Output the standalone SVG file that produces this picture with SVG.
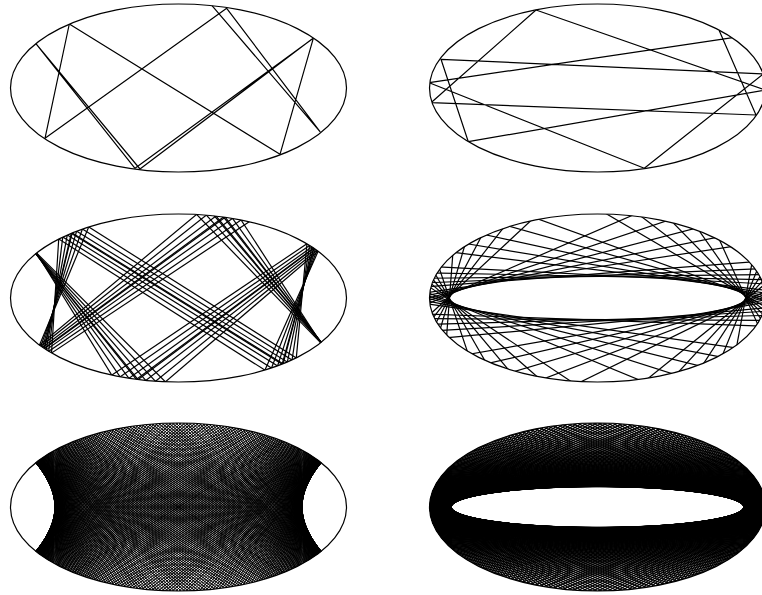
<svg xmlns="http://www.w3.org/2000/svg" width="762" height="595" viewBox="0 0 762 595">
<defs>
<style>
.o{fill:none;stroke:#000;stroke-width:1.2}
.c{fill:none;stroke:#000;stroke-width:1.2;stroke-linejoin:round}
.n{fill:none;stroke:#000;vector-effect:non-scaling-stroke}
</style>
<clipPath id="cTL"><ellipse cx="178.5" cy="88" rx="168" ry="84"/></clipPath>
<clipPath id="cTR"><ellipse cx="597.5" cy="88" rx="168" ry="84"/></clipPath>
<clipPath id="cML"><ellipse cx="178.5" cy="298" rx="168" ry="84"/></clipPath>
<clipPath id="cMR"><ellipse cx="597.5" cy="298" rx="168" ry="84"/></clipPath>
<clipPath id="cBL"><ellipse cx="178.5" cy="507" rx="168" ry="84"/></clipPath>
<clipPath id="cBR"><ellipse cx="597.5" cy="507" rx="168" ry="84"/></clipPath>
<line id="h" class="n" x1="1" y1="-9" x2="1" y2="9"/>
</defs>
<rect width="762" height="595" fill="#fff"/>

<g id="p-tl">
<g clip-path="url(#cTL)">
<polyline class="c" points="212,5.7 320,131.7 226.7,8.3 45,138.3 69.3,24 280,154.3 313.3,38.3 135,168.3 35.7,43.3 140,169 311.7,39.3"/>
</g>
<ellipse class="o" cx="178.5" cy="88" rx="168" ry="84"/>
</g>

<g id="p-tr">
<g clip-path="url(#cTR)">
<polyline class="c" points="732.7,37.7 429.3,82.7 644.3,168.3 763.2,74 441,59.3 468.3,141.7 765.5,90 536,10 431,102.7 756,115 719.3,30.7"/>
</g>
<ellipse class="o" cx="597.5" cy="88" rx="168" ry="84"/>
</g>

<g id="p-ml">
<g clip-path="url(#cML)" stroke-width="1.2">
<g transform="translate(178.5,298) scale(123.6,76.7)">
<use href="#h" transform="matrix(1.0923 .43944 .43944 1.0923 0 0)"/>
<use href="#h" transform="matrix(1.1154 .49407 .49407 1.1154 0 0)"/>
<use href="#h" transform="matrix(1.13724 .54159 .54159 1.13724 0 0)"/>
<use href="#h" transform="matrix(1.14256 .55265 .55265 1.14256 0 0)"/>
<use href="#h" transform="matrix(1.16817 .60383 .60383 1.16817 0 0)"/>
<use href="#h" transform="matrix(1.17432 .61565 .61565 1.17432 0 0)"/>
<use href="#h" transform="matrix(1.20571 .6736 .6736 1.20571 0 0)"/>
<use href="#h" transform="matrix(1.24982 .7497 .7497 1.24982 0 0)"/>
<use href="#h" transform="matrix(-1.50076 1.11905 -1.11905 1.50076 0 0)"/>
<use href="#h" transform="matrix(-1.60908 1.26061 -1.26061 1.60908 0 0)"/>
<use href="#h" transform="matrix(-1.74554 1.4307 -1.4307 1.74554 0 0)"/>
<use href="#h" transform="matrix(-1.88427 1.59702 -1.59702 1.88427 0 0)"/>
<use href="#h" transform="matrix(-1.91953 1.63847 -1.63847 1.91953 0 0)"/>
<use href="#h" transform="matrix(-2.10119 1.84797 -1.84797 2.10119 0 0)"/>
<use href="#h" transform="matrix(-2.39286 2.17389 -2.17389 2.39286 0 0)"/>
<use href="#h" transform="matrix(-2.80436 2.62 -2.62 2.80436 0 0)"/>
<use href="#h" transform="matrix(-1.00078 .03941 -.03941 1.00078 0 0)"/>
<use href="#h" transform="matrix(-1.00294 .07678 -.07678 1.00294 0 0)"/>
<use href="#h" transform="matrix(-1.00654 .11455 -.11455 1.00654 0 0)"/>
<use href="#h" transform="matrix(-1.0106 .14601 -.14601 1.0106 0 0)"/>
<use href="#h" transform="matrix(-1.01165 .15309 -.15309 1.01165 0 0)"/>
<use href="#h" transform="matrix(-1.01706 .18555 -.18555 1.01706 0 0)"/>
<use href="#h" transform="matrix(-1.02517 .22577 -.22577 1.02517 0 0)"/>
<use href="#h" transform="matrix(-1.03522 .2678 -.2678 1.03522 0 0)"/>
<use href="#h" transform="matrix(5.42265 5.32965 5.32965 5.42265 0 0)"/>
<use href="#h" transform="matrix(8.63151 8.57339 8.57339 8.63151 0 0)"/>
<use href="#h" transform="matrix(21.6576 21.6345 21.6345 21.6576 0 0)"/>
<use href="#h" transform="matrix(-89.948 -89.942 89.942 89.948 0 0)"/>
<use href="#h" transform="matrix(-41.743 -41.731 41.731 41.743 0 0)"/>
<use href="#h" transform="matrix(-12.3278 -12.2872 12.2872 12.3278 0 0)"/>
<use href="#h" transform="matrix(-6.65324 -6.57766 6.57766 6.65324 0 0)"/>
<use href="#h" transform="matrix(-4.58548 -4.47512 4.47512 4.58548 0 0)"/>
<use href="#h" transform="matrix(1.04103 -.2894 -.2894 1.04103 0 0)"/>
<use href="#h" transform="matrix(1.02994 -.24653 -.24653 1.02994 0 0)"/>
<use href="#h" transform="matrix(1.02088 -.20542 -.20542 1.02088 0 0)"/>
<use href="#h" transform="matrix(1.01479 -.17265 -.17265 1.01479 0 0)"/>
<use href="#h" transform="matrix(1.01359 -.16544 -.16544 1.01359 0 0)"/>
<use href="#h" transform="matrix(1.0089 -.13369 -.13369 1.0089 0 0)"/>
<use href="#h" transform="matrix(1.00455 -.09554 -.09554 1.00455 0 0)"/>
<use href="#h" transform="matrix(1.00168 -.05803 -.05803 1.00168 0 0)"/>
<use href="#h" transform="matrix(2.58222 -2.38073 -2.38073 2.58222 0 0)"/>
<use href="#h" transform="matrix(2.2358 -1.9997 -1.9997 2.2358 0 0)"/>
<use href="#h" transform="matrix(1.98474 -1.71441 -1.71441 1.98474 0 0)"/>
<use href="#h" transform="matrix(1.82722 -1.52929 -1.52929 1.82722 0 0)"/>
<use href="#h" transform="matrix(1.7958 -1.49161 -1.49161 1.7958 0 0)"/>
<use href="#h" transform="matrix(1.67348 -1.34184 -1.34184 1.67348 0 0)"/>
<use href="#h" transform="matrix(1.55182 -1.18665 -1.18665 1.55182 0 0)"/>
<use href="#h" transform="matrix(1.45412 -1.05568 -1.05568 1.45412 0 0)"/>
<use href="#h" transform="matrix(-1.27516 -.79122 .79122 1.27516 0 0)"/>
<use href="#h" transform="matrix(-1.22667 -.71044 .71044 1.22667 0 0)"/>
<use href="#h" transform="matrix(-1.18623 -.63808 .63808 1.18623 0 0)"/>
<use href="#h" transform="matrix(-1.15783 -.58359 .58359 1.15783 0 0)"/>
<use href="#h" transform="matrix(-1.15211 -.57216 .57216 1.15211 0 0)"/>
<use href="#h" transform="matrix(-1.12836 -.52268 .52268 1.12836 0 0)"/>
<use href="#h" transform="matrix(-1.10311 -.46567 .46567 1.10311 0 0)"/>
<use href="#h" transform="matrix(-1.0821 -.41345 .41345 1.0821 0 0)"/>
</g>
</g>
<ellipse class="o" cx="178.5" cy="298" rx="168" ry="84"/>
</g>

<g id="p-mr">
<g clip-path="url(#cMR)" stroke-width="1.2">
<g transform="translate(597.5,298) scale(148,21.5)">
<use href="#h" transform="rotate(223.76)"/>
<use href="#h" transform="rotate(215.85)"/>
<use href="#h" transform="rotate(209.12)"/>
<use href="#h" transform="rotate(203.45)"/>
<use href="#h" transform="rotate(198.55)"/>
<use href="#h" transform="rotate(160.6)"/>
<use href="#h" transform="rotate(155.51)"/>
<use href="#h" transform="rotate(149.66)"/>
<use href="#h" transform="rotate(142.71)"/>
<use href="#h" transform="rotate(134.53)"/>
<use href="#h" transform="rotate(10.22)"/>
<use href="#h" transform="rotate(7.64)"/>
<use href="#h" transform="rotate(5.39)"/>
<use href="#h" transform="rotate(3.39)"/>
<use href="#h" transform="rotate(1.53)"/>
<use href="#h" transform="rotate(289.82)"/>
<use href="#h" transform="rotate(277.95)"/>
<use href="#h" transform="rotate(265.74)"/>
<use href="#h" transform="rotate(253.72)"/>
<use href="#h" transform="rotate(242.37)"/>
<use href="#h" transform="rotate(177.19)"/>
<use href="#h" transform="rotate(175.24)"/>
<use href="#h" transform="rotate(173.07)"/>
<use href="#h" transform="rotate(170.6)"/>
<use href="#h" transform="rotate(167.72)"/>
<use href="#h" transform="rotate(39.64)"/>
<use href="#h" transform="rotate(32.32)"/>
<use href="#h" transform="rotate(26.15)"/>
<use href="#h" transform="rotate(20.88)"/>
<use href="#h" transform="rotate(16.51)"/>
<use href="#h" transform="rotate(338.06)"/>
<use href="#h" transform="rotate(332.72)"/>
<use href="#h" transform="rotate(326.33)"/>
<use href="#h" transform="rotate(318.78)"/>
<use href="#h" transform="rotate(309.97)"/>
<use href="#h" transform="rotate(188.88)"/>
<use href="#h" transform="rotate(186.48)"/>
<use href="#h" transform="rotate(184.36)"/>
<use href="#h" transform="rotate(182.44)"/>
<use href="#h" transform="rotate(180.63)"/>
<use href="#h" transform="rotate(103.95)"/>
<use href="#h" transform="rotate(91.86)"/>
<use href="#h" transform="rotate(79.67)"/>
<use href="#h" transform="rotate(67.93)"/>
<use href="#h" transform="rotate(57.07)"/>
<use href="#h" transform="rotate(356.23)"/>
<use href="#h" transform="rotate(354.19)"/>
<use href="#h" transform="rotate(351.88)"/>
<use href="#h" transform="rotate(349.22)"/>
<use href="#h" transform="rotate(346.08)"/>
</g>
</g>
<ellipse class="o" cx="597.5" cy="298" rx="168" ry="84"/>
</g>

<g id="p-bl">
<g clip-path="url(#cBL)" stroke-width="1">
<g transform="translate(178.5,507) scale(123.6,76.7)">
<g id="blq">
<line class="n" x1="-9" y1="-9" x2="9" y2="9"/>
<use href="#h" transform="matrix(1.00008 .0126 .0126 1.00008 0 0)"/>
<use href="#h" transform="matrix(1.00032 .02529 .02529 1.00032 0 0)"/>
<use href="#h" transform="matrix(1.00072 .03801 .03801 1.00072 0 0)"/>
<use href="#h" transform="matrix(1.00128 .05065 .05065 1.00128 0 0)"/>
<use href="#h" transform="matrix(1.002 .06334 .06334 1.002 0 0)"/>
<use href="#h" transform="matrix(1.0029 .07616 .07616 1.0029 0 0)"/>
<use href="#h" transform="matrix(1.00395 .08902 .08902 1.00395 0 0)"/>
<use href="#h" transform="matrix(1.00518 .10191 .10191 1.00518 0 0)"/>
<use href="#h" transform="matrix(1.00658 .11495 .11495 1.00658 0 0)"/>
<use href="#h" transform="matrix(1.00815 .12795 .12795 1.00815 0 0)"/>
<use href="#h" transform="matrix(1.0099 .14106 .14106 1.0099 0 0)"/>
<use href="#h" transform="matrix(1.01186 .15451 .15451 1.01186 0 0)"/>
<use href="#h" transform="matrix(1.01398 .16778 .16778 1.01398 0 0)"/>
<use href="#h" transform="matrix(1.01633 .18158 .18158 1.01633 0 0)"/>
<use href="#h" transform="matrix(1.01881 .19491 .19491 1.01881 0 0)"/>
<use href="#h" transform="matrix(1.02158 .20889 .20889 1.02158 0 0)"/>
<use href="#h" transform="matrix(1.02448 .2226 .2226 1.02448 0 0)"/>
<use href="#h" transform="matrix(1.02767 .23686 .23686 1.02767 0 0)"/>
<use href="#h" transform="matrix(1.03107 .25117 .25117 1.03107 0 0)"/>
<use href="#h" transform="matrix(1.03468 .26562 .26562 1.03468 0 0)"/>
<use href="#h" transform="matrix(1.03853 .28035 .28035 1.03853 0 0)"/>
<use href="#h" transform="matrix(1.0427 .29534 .29534 1.0427 0 0)"/>
<use href="#h" transform="matrix(1.04708 .3107 .3107 1.04708 0 0)"/>
<use href="#h" transform="matrix(1.05206 .32686 .32686 1.05206 0 0)"/>
<use href="#h" transform="matrix(1.05679 .34181 .34181 1.05679 0 0)"/>
<use href="#h" transform="matrix(1.06216 .35804 .35804 1.06216 0 0)"/>
<use href="#h" transform="matrix(1.06777 .37433 .37433 1.06777 0 0)"/>
<use href="#h" transform="matrix(1.07378 .39114 .39114 1.07378 0 0)"/>
<use href="#h" transform="matrix(1.08009 .40817 .40817 1.08009 0 0)"/>
<use href="#h" transform="matrix(1.08684 .42571 .42571 1.08684 0 0)"/>
<use href="#h" transform="matrix(1.09393 .44349 .44349 1.09393 0 0)"/>
<use href="#h" transform="matrix(1.10144 .4617 .4617 1.10144 0 0)"/>
<use href="#h" transform="matrix(1.1095 .48061 .48061 1.1095 0 0)"/>
<use href="#h" transform="matrix(1.11793 .49976 .49976 1.11793 0 0)"/>
<use href="#h" transform="matrix(1.1269 .51952 .51952 1.1269 0 0)"/>
<use href="#h" transform="matrix(1.13638 .53977 .53977 1.13638 0 0)"/>
<use href="#h" transform="matrix(1.1464 .56055 .56055 1.1464 0 0)"/>
<use href="#h" transform="matrix(1.15696 .58185 .58185 1.15696 0 0)"/>
<use href="#h" transform="matrix(1.16835 .60418 .60418 1.16835 0 0)"/>
<use href="#h" transform="matrix(1.18029 .62696 .62696 1.18029 0 0)"/>
<use href="#h" transform="matrix(1.19307 .6507 .6507 1.19307 0 0)"/>
<use href="#h" transform="matrix(1.20652 .67505 .67505 1.20652 0 0)"/>
<use href="#h" transform="matrix(1.22083 .7003 .7003 1.22083 0 0)"/>
<use href="#h" transform="matrix(1.23587 .7262 .7262 1.23587 0 0)"/>
<use href="#h" transform="matrix(1.25209 .75347 .75347 1.25209 0 0)"/>
<use href="#h" transform="matrix(1.26919 .78156 .78156 1.26919 0 0)"/>
<use href="#h" transform="matrix(1.28743 .81085 .81085 1.28743 0 0)"/>
<use href="#h" transform="matrix(1.30683 .84131 .84131 1.30683 0 0)"/>
<use href="#h" transform="matrix(1.32741 .87294 .87294 1.32741 0 0)"/>
<use href="#h" transform="matrix(1.34991 .90678 .90678 1.34991 0 0)"/>
<use href="#h" transform="matrix(1.37311 .94097 .94097 1.37311 0 0)"/>
<use href="#h" transform="matrix(1.39813 .97712 .97712 1.39813 0 0)"/>
<use href="#h" transform="matrix(1.42503 1.01524 1.01524 1.42503 0 0)"/>
<use href="#h" transform="matrix(1.4537 1.0551 1.0551 1.4537 0 0)"/>
<use href="#h" transform="matrix(1.48469 1.09741 1.09741 1.48469 0 0)"/>
<use href="#h" transform="matrix(1.5176 1.14154 1.14154 1.5176 0 0)"/>
<use href="#h" transform="matrix(1.55336 1.18867 1.18867 1.55336 0 0)"/>
<use href="#h" transform="matrix(1.59183 1.23852 1.23852 1.59183 0 0)"/>
<use href="#h" transform="matrix(1.6337 1.29189 1.29189 1.6337 0 0)"/>
<use href="#h" transform="matrix(1.67886 1.34854 1.34854 1.67886 0 0)"/>
<use href="#h" transform="matrix(1.72751 1.40865 1.40865 1.72751 0 0)"/>
<use href="#h" transform="matrix(1.78053 1.47319 1.47319 1.78053 0 0)"/>
<use href="#h" transform="matrix(1.83811 1.54229 1.54229 1.83811 0 0)"/>
<use href="#h" transform="matrix(1.9013 1.61708 1.61708 1.9013 0 0)"/>
<use href="#h" transform="matrix(1.97005 1.69738 1.69738 1.97005 0 0)"/>
<use href="#h" transform="matrix(2.04651 1.78555 1.78555 2.04651 0 0)"/>
<use href="#h" transform="matrix(2.13005 1.88072 1.88072 2.13005 0 0)"/>
<use href="#h" transform="matrix(2.22245 1.98476 1.98476 2.22245 0 0)"/>
<use href="#h" transform="matrix(2.32619 2.10027 2.10027 2.32619 0 0)"/>
<use href="#h" transform="matrix(2.44172 2.22755 2.22755 2.44172 0 0)"/>
<use href="#h" transform="matrix(2.58223 2.38074 2.38074 2.58223 0 0)"/>
<use href="#h" transform="matrix(2.7222 2.53187 2.53187 2.7222 0 0)"/>
<use href="#h" transform="matrix(2.8872 2.70849 2.70849 2.8872 0 0)"/>
<use href="#h" transform="matrix(3.07821 2.91125 2.91125 3.07821 0 0)"/>
<use href="#h" transform="matrix(3.30548 3.15059 3.15059 3.30548 0 0)"/>
<use href="#h" transform="matrix(3.56443 3.42128 3.42128 3.56443 0 0)"/>
<use href="#h" transform="matrix(3.87965 3.74856 3.74856 3.87965 0 0)"/>
<use href="#h" transform="matrix(4.25105 4.13176 4.13176 4.25105 0 0)"/>
<use href="#h" transform="matrix(4.70624 4.59877 4.59877 4.70624 0 0)"/>
<use href="#h" transform="matrix(5.27795 5.18235 5.18235 5.27795 0 0)"/>
<use href="#h" transform="matrix(6.01471 5.931 5.931 6.01471 0 0)"/>
<use href="#h" transform="matrix(7.00005 6.92825 6.92825 7.00005 0 0)"/>
<use href="#h" transform="matrix(8.38233 8.32247 8.32247 8.38233 0 0)"/>
<use href="#h" transform="matrix(10.4603 10.4124 10.4124 10.4603 0 0)"/>
<use href="#h" transform="matrix(13.928 13.892 13.892 13.928 0 0)"/>
<use href="#h" transform="matrix(20.8705 20.8465 20.8465 20.8705 0 0)"/>
<use href="#h" transform="matrix(41.711 41.699 41.699 41.711 0 0)"/>
</g>
<use href="#blq" transform="scale(-1,1)"/>
<use href="#blq" transform="scale(1,-1)"/>
<use href="#blq" transform="scale(-1,-1)"/>
</g>
</g>
<ellipse class="o" cx="178.5" cy="507" rx="168" ry="84"/>
</g>

<g id="p-br">
<g clip-path="url(#cBR)" stroke-width="1.2">
<g transform="translate(597.5,507) scale(146.5,20.5)">
<g id="brq">
<use href="#h" transform="rotate(90)"/>
<use href="#h" transform="rotate(88.27)"/>
<use href="#h" transform="rotate(86.545)"/>
<use href="#h" transform="rotate(84.82)"/>
<use href="#h" transform="rotate(83.105)"/>
<use href="#h" transform="rotate(81.39)"/>
<use href="#h" transform="rotate(79.685)"/>
<use href="#h" transform="rotate(77.98)"/>
<use href="#h" transform="rotate(76.3)"/>
<use href="#h" transform="rotate(74.62)"/>
<use href="#h" transform="rotate(72.97)"/>
<use href="#h" transform="rotate(71.32)"/>
<use href="#h" transform="rotate(69.695)"/>
<use href="#h" transform="rotate(68.07)"/>
<use href="#h" transform="rotate(66.475)"/>
<use href="#h" transform="rotate(64.88)"/>
<use href="#h" transform="rotate(63.33)"/>
<use href="#h" transform="rotate(61.78)"/>
<use href="#h" transform="rotate(60.275)"/>
<use href="#h" transform="rotate(58.77)"/>
<use href="#h" transform="rotate(57.31)"/>
<use href="#h" transform="rotate(55.85)"/>
<use href="#h" transform="rotate(54.435)"/>
<use href="#h" transform="rotate(53.02)"/>
<use href="#h" transform="rotate(51.655)"/>
<use href="#h" transform="rotate(50.29)"/>
<use href="#h" transform="rotate(48.98)"/>
<use href="#h" transform="rotate(47.67)"/>
<use href="#h" transform="rotate(46.405)"/>
<use href="#h" transform="rotate(45.14)"/>
<use href="#h" transform="rotate(43.93)"/>
<use href="#h" transform="rotate(42.72)"/>
<use href="#h" transform="rotate(41.56)"/>
<use href="#h" transform="rotate(40.4)"/>
<use href="#h" transform="rotate(39.29)"/>
<use href="#h" transform="rotate(38.18)"/>
<use href="#h" transform="rotate(37.12)"/>
<use href="#h" transform="rotate(36.06)"/>
<use href="#h" transform="rotate(35.045)"/>
<use href="#h" transform="rotate(34.03)"/>
<use href="#h" transform="rotate(33.07)"/>
<use href="#h" transform="rotate(32.11)"/>
<use href="#h" transform="rotate(31.19)"/>
<use href="#h" transform="rotate(30.27)"/>
<use href="#h" transform="rotate(29.395)"/>
<use href="#h" transform="rotate(28.52)"/>
<use href="#h" transform="rotate(27.69)"/>
<use href="#h" transform="rotate(26.86)"/>
<use href="#h" transform="rotate(26.065)"/>
<use href="#h" transform="rotate(25.27)"/>
<use href="#h" transform="rotate(24.5)"/>
<use href="#h" transform="rotate(23.73)"/>
<use href="#h" transform="rotate(23.005)"/>
<use href="#h" transform="rotate(22.28)"/>
<use href="#h" transform="rotate(21.58)"/>
<use href="#h" transform="rotate(20.88)"/>
<use href="#h" transform="rotate(20.245)"/>
<use href="#h" transform="rotate(19.61)"/>
<use href="#h" transform="rotate(18.995)"/>
<use href="#h" transform="rotate(18.38)"/>
<use href="#h" transform="rotate(17.785)"/>
<use href="#h" transform="rotate(17.19)"/>
<use href="#h" transform="rotate(16.63)"/>
<use href="#h" transform="rotate(16.07)"/>
<use href="#h" transform="rotate(15.55)"/>
<use href="#h" transform="rotate(15.03)"/>
<use href="#h" transform="rotate(14.54)"/>
<use href="#h" transform="rotate(14.05)"/>
<use href="#h" transform="rotate(13.58)"/>
<use href="#h" transform="rotate(13.11)"/>
<use href="#h" transform="rotate(12.67)"/>
<use href="#h" transform="rotate(12.23)"/>
<use href="#h" transform="rotate(11.805)"/>
<use href="#h" transform="rotate(11.38)"/>
<use href="#h" transform="rotate(10.98)"/>
<use href="#h" transform="rotate(10.58)"/>
<use href="#h" transform="rotate(10.195)"/>
<use href="#h" transform="rotate(9.81)"/>
<use href="#h" transform="rotate(9.445)"/>
<use href="#h" transform="rotate(9.08)"/>
<use href="#h" transform="rotate(8.73)"/>
<use href="#h" transform="rotate(8.38)"/>
<use href="#h" transform="rotate(8.045)"/>
<use href="#h" transform="rotate(7.71)"/>
<use href="#h" transform="rotate(7.385)"/>
<use href="#h" transform="rotate(7.06)"/>
<use href="#h" transform="rotate(6.75)"/>
<use href="#h" transform="rotate(6.44)"/>
<use href="#h" transform="rotate(6.145)"/>
<use href="#h" transform="rotate(5.85)"/>
<use href="#h" transform="rotate(5.56)"/>
<use href="#h" transform="rotate(5.27)"/>
<use href="#h" transform="rotate(4.99)"/>
<use href="#h" transform="rotate(4.71)"/>
<use href="#h" transform="rotate(4.44)"/>
<use href="#h" transform="rotate(4.17)"/>
<use href="#h" transform="rotate(3.91)"/>
<use href="#h" transform="rotate(3.65)"/>
<use href="#h" transform="rotate(3.39)"/>
<use href="#h" transform="rotate(3.13)"/>
<use href="#h" transform="rotate(2.88)"/>
<use href="#h" transform="rotate(2.63)"/>
<use href="#h" transform="rotate(2.385)"/>
<use href="#h" transform="rotate(2.14)"/>
<use href="#h" transform="rotate(1.9)"/>
<use href="#h" transform="rotate(1.66)"/>
<use href="#h" transform="rotate(1.42)"/>
<use href="#h" transform="rotate(1.18)"/>
<use href="#h" transform="rotate(0.945)"/>
<use href="#h" transform="rotate(0.71)"/>
<use href="#h" transform="rotate(0.475)"/>
<use href="#h" transform="rotate(0.24)"/>
<use href="#h"/>
</g>
<use href="#brq" transform="scale(-1,1)"/>
<use href="#brq" transform="scale(1,-1)"/>
<use href="#brq" transform="scale(-1,-1)"/>
</g>
</g>
<ellipse class="o" cx="597.5" cy="507" rx="168" ry="84"/>
</g>
</svg>
